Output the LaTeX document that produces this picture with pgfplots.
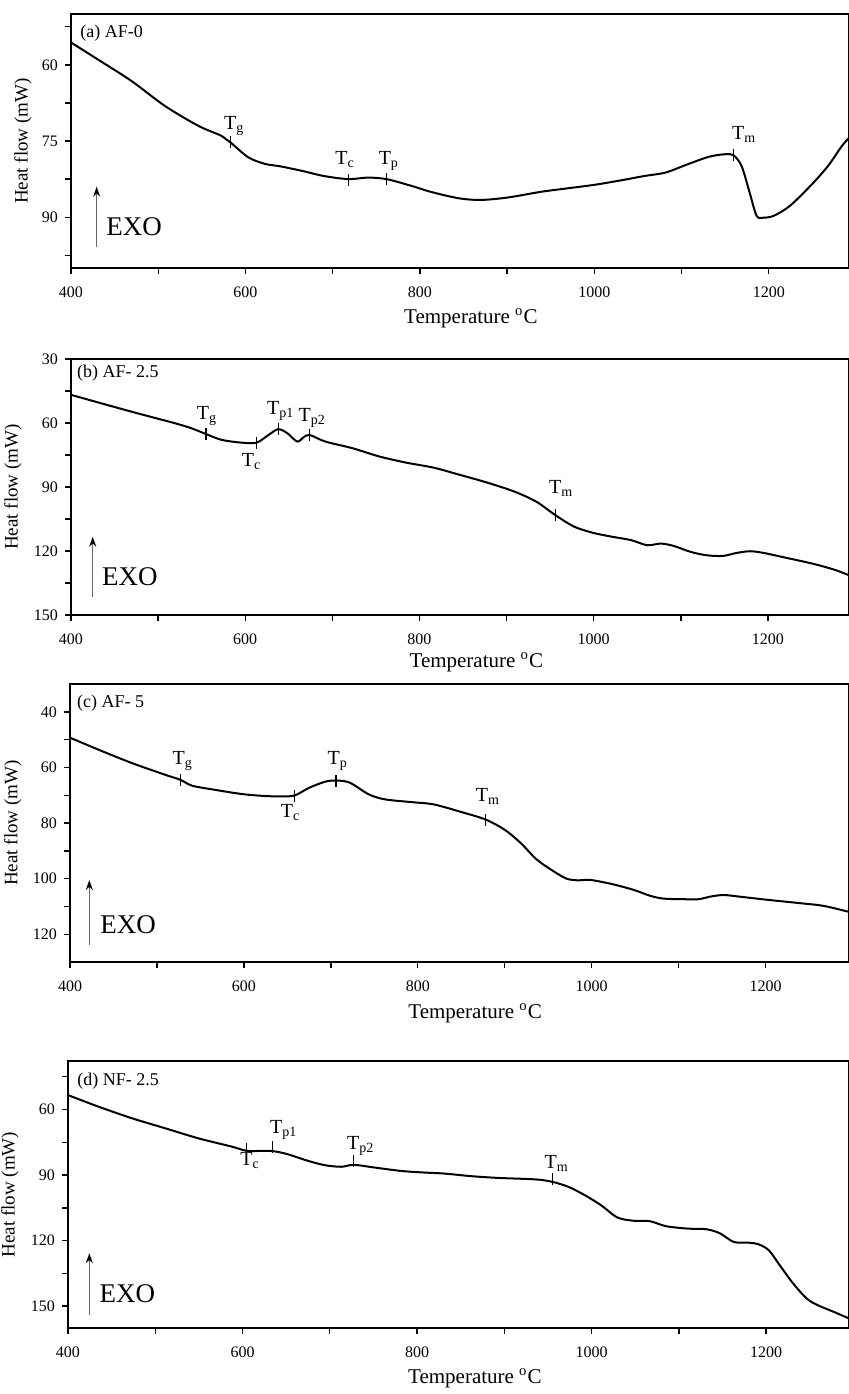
\documentclass[border=0pt]{standalone}
\usepackage{fontspec}
\setmainfont{Liberation Serif}
\usepackage{pgfplots}
\pgfplotsset{compat=1.18}
\usetikzlibrary{arrows.meta}

\pgfplotsset{
  dsc/.style={
    scale only axis,
    y dir=reverse,
    xmin=400,
    xtick={400,600,800,1000,1200},
    minor xtick={500,700,900,1100},
    tick align=outside,
    tick pos=left,
    major tick length=3pt,
    minor tick length=3pt,
    axis line style={line width=1pt},
    tick style={black, line width=0.7pt},
    tick label style={font=\fontsize{8}{9}\selectfont},
    /pgf/number format/assume math mode=true,
    /pgf/number format/1000 sep={},
    xticklabel style={yshift=-3pt},
    ylabel={Heat flow (mW)},
    xlabel={Temperature \textsuperscript{o}C},
    ylabel style={font=\fontsize{9.5}{11}\selectfont, anchor=center},
    xlabel style={font=\fontsize{10.5}{12}\selectfont, anchor=center},
  },
  curve/.style={black, line width=1pt, smooth, no marks},
  tmk/.style={only marks, mark=|, mark size=3pt, mark options={line width=0.6pt, black}},
}
\newcommand{\tl}[1]{T\textsubscript{#1}}
\tikzset{ann/.style={anchor=base west, inner sep=0pt, font=\fontsize{10}{12}\selectfont},
         pan/.style={anchor=west, inner sep=0pt, font=\fontsize{9}{11}\selectfont},
         exo/.style={anchor=west, inner sep=0pt, font=\fontsize{13.5}{15}\selectfont},
         exoar/.style={black!60, line width=0.6pt, -{Stealth[length=5pt,width=3.5pt,black]}}}

\begin{document}
\begin{tikzpicture}
\useasboundingbox (0,0) rectangle (424.5pt,-697pt);

% ---------------- (a) ----------------
\begin{axis}[dsc, at={(35.5pt,-7pt)}, anchor=north west,
  width=389pt, height=127pt, xmax=1292, ymin=50, ymax=100,
  ytick={60,75,90}, minor ytick={52.5,67.5,82.5,97.5},
  ylabel style={at={(axis description cs:-0.0617,0.5)}},
  xlabel style={at={(axis description cs:0.514,-0.197)}}]
\addplot[curve] coordinates {
(400,55.6) (431.3,59.0) (469.5,63.2) (507.7,68.1) (545.9,72.0) (572.7,74.0)
(583,75.3) (603.2,78.2) (622.3,79.5) (640.5,80.0) (665.4,80.9) (690.2,81.9)
(718.2,82.5) (740,82.2)
(761.7,82.5) (789.7,83.8) (814.5,85.1) (845.6,86.3) (870.5,86.6) (901.6,86.1)
(938.8,85.0) (969.9,84.3) (1001,83.6) (1032,82.7) (1057,81.9) (1081.8,81.2)
(1106.7,79.6) (1131.5,78.1) (1150,77.6) (1159.5,77.8) (1168.8,79.9) (1178,85.1)
(1186,89.7) (1193.6,90.1) (1206,89.7) (1224.7,87.7) (1249.6,83.5) (1268,79.9)
(1283.8,76.0) (1292,74.4)};
\addplot[tmk] coordinates {(583,75.2) (718,82.6) (762,82.5) (1160,77.8)};
\node[ann] at (axis cs:575,72.7) {\tl{g}};
\node[ann] at (axis cs:702.7,79.6) {\tl{c}};
\node[ann] at (axis cs:752.4,79.6) {\tl{p}};
\node[ann] at (axis cs:1157.6,74.8) {\tl{m}};
\node[pan] at (axis description cs:0.0116,0.925) {(a) AF-0};
\draw[exoar] (axis description cs:0.033,0.084) -- (axis description cs:0.033,0.32);
\node[exo] at (axis description cs:0.045,0.163) {EXO};
\end{axis}

% ---------------- (b) ----------------
\begin{axis}[dsc, at={(35.5pt,-179.5pt)}, anchor=north west,
  width=389pt, height=128pt, xmax=1293, ymin=30, ymax=150,
  ytick={30,60,90,120,150}, minor ytick={45,75,105,135},
  ylabel style={at={(axis description cs:-0.0745,0.5)}},
  xlabel style={at={(axis description cs:0.521,-0.184)}}]
\addplot[curve] coordinates {
(400,46.8) (469.6,54.7) (519.3,60.1) (538.5,62.5) (555.7,65.3) (572.9,67.9)
(595.8,69.2) (613,69.2) (626.7,65.6) (637.9,62.9) (648.4,64.8) (659.6,68.7)
(667,66.7) (673.9,65.6) (691.9,68.7) (723,71.8) (754,75.7) (785,78.6)
(816,80.9) (847.2,84.4) (878.3,88.0) (909.3,92.2) (934.2,96.9) (956,103.2)
(977.6,108.6) (999.4,111.5) (1021,113.3) (1043,114.9) (1061.5,117.3) (1077,116.5)
(1092.5,117.7) (1111.2,120.4) (1129.8,122.0) (1148.4,122.3) (1164,120.9)
(1179.5,120.1) (1195,120.9) (1219.9,123.1) (1250.9,125.9) (1275.8,128.7) (1293.2,131.4)};
\addplot[tmk] coordinates {(555,65.0) (613,69.3) (638,63) (674,65.5) (956,103.2)};
\node[ann] at (axis cs:544,58.5) {\tl{g}};
\node[ann] at (axis cs:595.7,80.4) {\tl{c}};
\node[ann] at (axis cs:624.8,56.2) {\tl{p1}};
\node[ann] at (axis cs:660.9,59.3) {\tl{p2}};
\node[ann] at (axis cs:948.4,93) {\tl{m}};
\node[pan] at (axis description cs:0.0073,0.944) {(b) AF- 2.5};
\draw[exoar] (axis description cs:0.0279,0.0715) -- (axis description cs:0.0279,0.306);
\node[exo] at (axis description cs:0.0395,0.150) {EXO};
\end{axis}

% ---------------- (c) ----------------
\begin{axis}[dsc, at={(35pt,-342pt)}, anchor=north west,
  width=389.5pt, height=139pt, xmax=1296, ymin=30, ymax=130,
  ytick={40,60,80,100,120}, minor ytick={50,70,90,110},
  ylabel style={at={(axis description cs:-0.0735,0.5)}},
  xlabel style={at={(axis description cs:0.52,-0.183)}}]
\addplot[curve] coordinates {
(400,49.3) (433.4,53.7) (471.8,58.5) (510,62.7) (527.3,64.5) (540.7,66.6)
(567.5,68.1) (598.3,69.6) (625,70.3) (644.1,70.4) (658.4,70.1) (675.2,67.3)
(693.9,65.1) (706.4,64.7)
(721.9,65.5) (743.7,69.7) (762.4,71.5) (793.5,72.5) (818.4,73.3) (849.6,76.0)
(877.6,78.7) (899.4,82.3) (918.1,87.1) (936.7,93.1) (955.4,97.2) (971,100.0)
(983.4,100.6) (999,100.5) (1023.9,102.0) (1048.8,104.1) (1067.5,106.2) (1083,107.2)
(1104.9,107.4) (1123.5,107.4) (1136,106.5) (1151.6,105.9) (1173.3,106.6)
(1204.5,107.7) (1241.8,108.9) (1266.7,109.8) (1296.6,112.0)};
\addplot[tmk] coordinates {(527,64.7) (658,70.2) (706,65) (878,79)};
\node[ann] at (axis cs:517.7,58.9) {\tl{g}};
\node[ann] at (axis cs:642.2,78.1) {\tl{c}};
\node[ann] at (axis cs:695.8,58.9) {\tl{p}};
\node[ann] at (axis cs:866.4,72.1) {\tl{m}};
\node[pan] at (axis description cs:0.0086,0.931) {(c) AF- 5};
\draw[exoar] (axis description cs:0.0248,0.061) -- (axis description cs:0.0248,0.295);
\node[exo] at (axis description cs:0.0385,0.133) {EXO};
\end{axis}

% ---------------- (d) ----------------
\begin{axis}[dsc, at={(34pt,-530.5pt)}, anchor=north west,
  width=390.5pt, height=133.5pt, xmax=1295, ymin=37.8, ymax=160,
  ytick={60,90,120,150}, minor ytick={45,75,105,135},
  ylabel style={at={(axis description cs:-0.0742,0.5)}},
  xlabel style={at={(axis description cs:0.521,-0.187)}}]
\addplot[curve] coordinates {
(400,53.4) (435,58.7) (473.3,64.0) (511.5,68.6) (549.6,73.2) (587.9,77.0)
(605,78.9) (626,78.9) (636,79.1) (651.2,80.4) (676,83.6) (694.6,85.5) (713.2,86.2)
(727.4,85.3) (750.4,86.5) (781.4,88.1) (806.2,88.8) (831,89.3) (862,90.5)
(893,91.3) (936.4,92.0) (955,93.1) (973.6,95.4) (992.2,99.2) (1010.9,103.8)
(1029.5,109.4) (1048,110.9) (1066.7,111.1) (1085.3,113.4) (1110.1,114.5)
(1131.8,114.8) (1147.3,116.7) (1162.8,120.6) (1178.3,120.9) (1190.7,121.6)
(1203.1,124.4) (1215.5,131.2) (1231,139.6) (1246.5,146.5) (1258.9,149.5)
(1277.5,152.6) (1294.9,155.6)};
\addplot[tmk] coordinates {(605,77.9) (634,77.1) (727,83.7) (955,92)};
\node[ann] at (axis cs:597.2,85.5) {\tl{c}};
\node[ann] at (axis cs:631.3,71) {\tl{p1}};
\node[ann] at (axis cs:719.4,78.3) {\tl{p2}};
\node[ann] at (axis cs:945.7,87) {\tl{m}};
\node[pan] at (axis description cs:0.0115,0.925) {(d) NF- 2.5};
\draw[exoar] (axis description cs:0.0273,0.049) -- (axis description cs:0.0273,0.28);
\node[exo] at (axis description cs:0.040,0.13) {EXO};
\end{axis}
\end{tikzpicture}
\end{document}
